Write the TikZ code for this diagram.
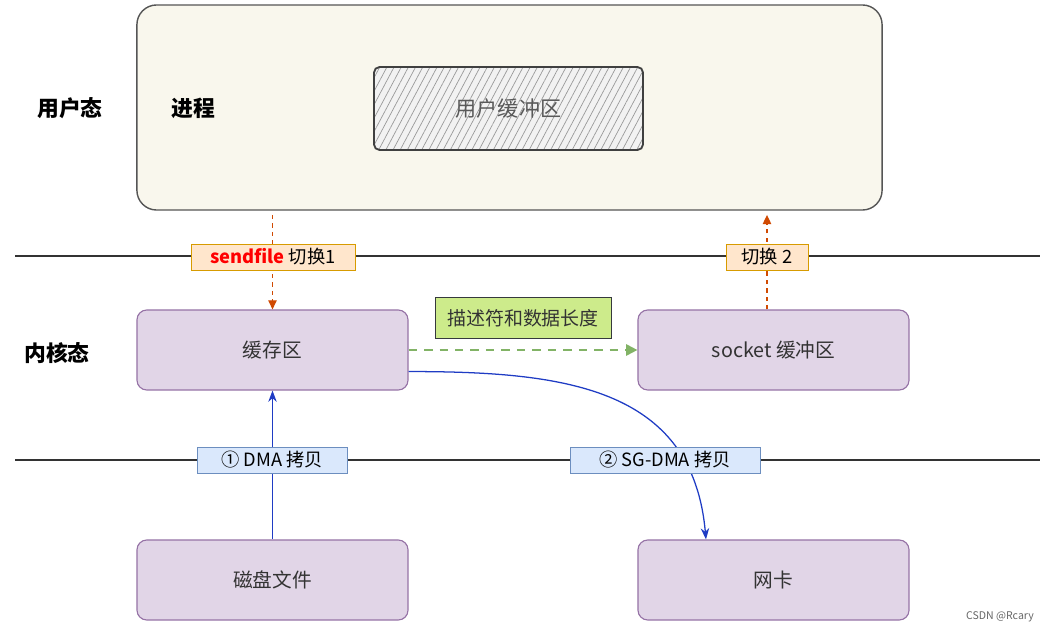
\documentclass[tikz,border=0pt]{standalone}
\usepackage{fontspec}
\setmainfont{Noto Sans CJK SC}
\usetikzlibrary{arrows.meta,patterns.meta}

\definecolor{procfill}{HTML}{F9F7ED}
\definecolor{procdraw}{HTML}{555555}
\definecolor{kfill}{HTML}{E1D5E7}
\definecolor{kdraw}{HTML}{9673A6}
\definecolor{ofill}{HTML}{FFE6CC}
\definecolor{odraw}{HTML}{D79B00}
\definecolor{bfill}{HTML}{DAE8FC}
\definecolor{bdraw}{HTML}{6C8EBF}
\definecolor{gfill}{HTML}{CDEB8B}
\definecolor{gdraw}{HTML}{36393D}
\definecolor{garrow}{HTML}{82B366}
\definecolor{oarrow}{HTML}{D04A02}
\definecolor{barrow}{HTML}{1F3CC4}

\tikzset{
	kbox/.style={draw=kdraw, fill=kfill, rounded corners=7pt, line width=0.8pt, minimum width=6.775cm, minimum height=2cm, text=black!80, font=\fontsize{14}{16}\selectfont},
	tagbox/.style={draw, line width=0.6pt, minimum height=0.65cm, inner sep=2pt, font=\fontsize{13}{15}\selectfont},
	sidelabel/.style={font=\fontsize{15.5}{17}\selectfont\bfseries},
	switcharrow/.style={-{Triangle[length=6.5pt,width=6pt]}, dashed, oarrow, line width=0.8pt},
	dmaarrow/.style={-{Stealth[length=8pt,width=6pt]}, barrow, line width=0.9pt},
}

\begin{document}
\begin{tikzpicture}[x=0.025cm, y=0.025cm]
	\useasboundingbox (0,0) rectangle (1040,633);

	% User space process
	\node[draw=procdraw, fill=procfill, rounded corners=14pt, line width=1pt, minimum width=18.625cm, minimum height=5.125cm] (proc) at (509.5,525.5) {};
	\node[draw=gray!50!black, line width=1.3pt, rounded corners=4pt, preaction={fill=gray!10}, pattern={Lines[angle=62, distance=4.5pt, line width=0.5pt]}, pattern color=gray!80, minimum width=6.725cm, minimum height=2.075cm] (ubuf) at (508.5,524.5) {};
	\node[text=black!65, font=\fontsize{15}{17}\selectfont] (ubuftext) at (ubuf) {用户缓冲区};
	\node[sidelabel] (userlabel) at (70,525) {用户态};
	\node[sidelabel] (proclabel) at (193,525) {进程};

	% Kernel space
	\node[sidelabel] (kernlabel) at (57,280) {内核态};
	\node[kbox] (kbuf) at (272.5,283) {缓存区};
	\node[kbox] (sbuf) at (773.5,283) {socket 缓冲区};
	\node[draw=gdraw, fill=gfill, line width=0.6pt, minimum width=4.4cm, minimum height=1.025cm, text=black!80, font=\fontsize{13.5}{15}\selectfont] (desc) at (523,315) {描述符和数据长度};

	% Hardware
	\node[kbox] (disk) at (272.5,53) {磁盘文件};
	\node[kbox] (nic) at (773.5,53) {网卡};

	% Boundaries
	\draw[black!80, line width=0.8pt] (15,377) -- (1040,377);
	\draw[black!80, line width=0.8pt] (15,173) -- (1040,173);

	% Arrows
	\draw[switcharrow] ([yshift=-3pt]proc.south -| kbuf) -- (kbuf.north);
	\draw[switcharrow] (sbuf.north -| 767,0) -- ([yshift=-3pt]proc.south -| 767,0);
	\draw[-{Triangle[length=8pt,width=8pt]}, dashed, dash pattern=on 6pt off 5pt, garrow, line width=1.4pt] (kbuf.east) -- (sbuf.west);
	\draw[dmaarrow] (disk.north) -- (kbuf.south);
	\draw[dmaarrow] (kbuf.-9) to[out=0, in=95, looseness=1.15] (nic.149);

	% Labels on the boundaries
	\node[tagbox, draw=odraw, fill=ofill, minimum width=4.1cm] (sw1) at (273,376) {\textcolor{red}{\bfseries sendfile} 切换1};
	\node[tagbox, draw=odraw, fill=ofill, minimum width=2.05cm] (sw2) at (767,376) {切换 2};
	\node[tagbox, draw=bdraw, fill=bfill, minimum width=3.75cm] (dma1) at (272,173) {① DMA 拷贝};
	\node[tagbox, draw=bdraw, fill=bfill, minimum width=4.75cm] (dma2) at (665,173) {② SG-DMA 拷贝};

	% Watermark
	\node[text=black!60, font=\fontsize{7.5}{9}\selectfont] (mark) at (1000,16) {CSDN @Rcary};
\end{tikzpicture}
\end{document}
